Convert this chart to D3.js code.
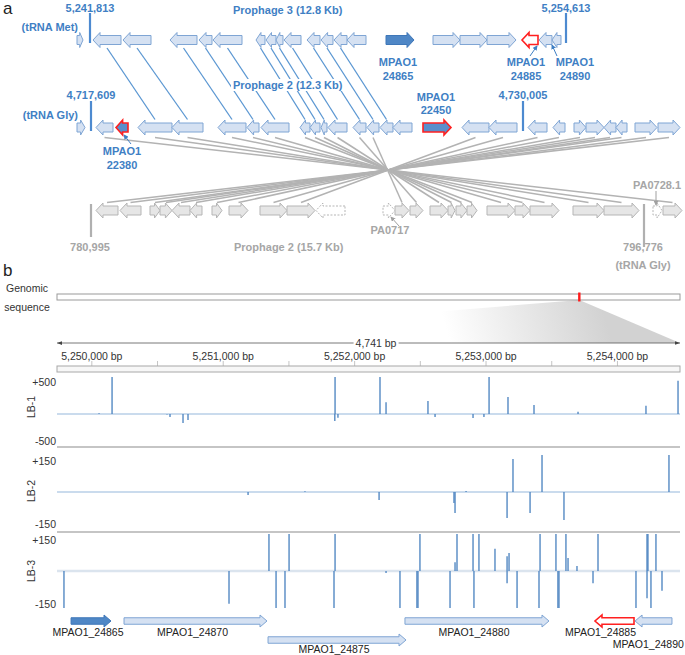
<!DOCTYPE html>
<html><head><meta charset="utf-8">
<script src="https://cdn.jsdelivr.net/npm/d3@7"></script>
<style>body{margin:0;background:#fff}svg{display:block}text{font-family:"Liberation Sans",Arial,sans-serif}</style>
</head><body><svg id="c" width="685" height="655"></svg>
<script>
// ---------- Panel a data (positions in map units) ----------
// [start, end, strand, kind]
const row1Genes = [
 [77,83,1,'n'],[93,121,-1,'n'],[123,151,-1,'n'],[170,197,-1,'n'],[199,212,-1,'n'],[213,242,-1,'n'],
 [256,265,-1,'n'],[266,276,-1,'n'],[276,283,-1,'n'],[284,301,-1,'n'],[307,320,-1,'n'],[321,333,-1,'n'],
 [334,347,-1,'n'],[347,366,-1,'n'],[386,414,1,'dark'],[433,460,1,'n'],[460,487,1,'n'],[487,516,1,'n'],
 [522,538,-1,'redw'],[539,552,-1,'n'],[552,561,-1,'n']
];
const row2Genes = [
 [77,85,1,'n'],[96,113,-1,'n'],[116,128,-1,'red'],[138,172,-1,'n'],[172,203,-1,'n'],[218,246,-1,'n'],
 [247,259,-1,'n'],[261,289,-1,'n'],[300,310,-1,'n'],[310,320,-1,'n'],[321,327,-1,'n'],[328,347,-1,'n'],
 [353,366,-1,'n'],[367,379,-1,'n'],[380,393,-1,'n'],[393,412,-1,'n'],[423,451,1,'red'],[462,489,-1,'n'],
 [489,517,-1,'n'],[528,547,-1,'n'],[553,565,-1,'n'],[574,586,1,'n'],[586,604,1,'n'],[604,616,-1,'n'],
 [616,627,-1,'n'],[635,657,1,'n'],[658,680,1,'n']
];
const row3Genes = [
 [96,118,-1,'g'],[120,141,-1,'g'],[150,160,1,'g'],[160,172,1,'g'],[172,190,-1,'g'],[190,202,-1,'g'],
 [212,222,1,'g'],[229,248,1,'g'],[260,287,1,'g'],[287,315,1,'g'],[316,345,-1,'gd'],[383,395,1,'gd'],
 [395,409,1,'g'],[410,423,1,'g'],[430,448,1,'g'],[448,455,1,'g'],[456,467,1,'g'],[467,477,1,'g'],
 [487,515,1,'g'],[515,530,1,'g'],[530,559,1,'g'],[573,604,1,'g'],[604,639,1,'g'],[653,662,1,'gd'],[663,682,1,'g']
];
// homology links: [row1 index, row2 index]
const blueLinks = [[1,3],[2,4],[3,5],[4,6],[5,7],[6,8],[7,9],[8,10],[9,11],[10,12],[11,13],[12,14]];
// inverted homology links: [row2 index, row3 index]
const grayLinks = [[26,0],[25,1],[24,2],[23,3],[22,4],[21,5],[20,6],[19,7],[18,8],[17,9],
 [1,24],[3,22],[4,21],[5,20],[6,19],[7,18],[8,17],[9,16],[10,15],[11,14],[12,13],[13,12]];
// boundary ticks: [row, position, label]
const boundaries = [[1,90,'5,241,813'],[1,566,'5,254,613'],[2,91,'4,717,609'],[2,523,'4,730,005'],[3,91,'780,995'],[3,644,'796,776']];

// ---------- Panel b data ----------
const genomeLength = 6264404;
const regionCenter = 5252100;
const regionDomain = [5249735, 5254476];
const regionLengthLabel = '4,741 bp';
const axisTicks = [5250000, 5251000, 5252000, 5253000, 5254000];
const axisTickLabels = ['5,250,000 bp','5,251,000 bp','5,252,000 bp','5,253,000 bp','5,254,000 bp'];
const minorTicks = [5250000,5250500,5251000,5251500,5252000,5252500,5253000,5253500,5254000];
const tracks = ['LB-1','LB-2','LB-3'];
const trackLimits = [500, 150, 150];
const trackTickLabels = [['+500','-500'],['+150','-150'],['+150','-150']];
// [position bp, read count]
const lb1 = [[5250055,10],[5250154,520],[5250572,-8],[5250595,-40],[5250694,-120],[5250732,-80],
 [5251851,520],[5251849,-95],[5251873,-50],[5252193,520],[5252239,160],[5252558,175],[5252612,-40],
 [5252901,-55],[5252984,-40],[5253023,520],[5253167,230],[5253365,120],[5253700,30],[5254217,110],[5254461,450]];
const lb2 = [[5251189,-12],[5251622,3],[5252186,-32],[5252756,-45],[5252764,-85],[5252848,4],
 [5253160,-105],[5253205,134],[5253335,-85],[5253426,150],[5253593,-114],[5254392,150]];
const lb3 = [[5249788,-150],[5251044,-133],[5251348,150],[5251402,-150],[5251470,-150],[5251501,150],
 [5251843,-150],[5251851,150],[5252239,-8],[5252345,-150],[5252474,-150],[5252482,-150],[5252497,150],
 [5252726,-150],[5252764,35],[5252779,150],[5252901,150],[5252908,-150],[5252946,150],[5253068,90],
 [5253160,60],[5253160,-50],[5253175,73],[5253236,-150],[5253403,-150],[5253411,150],[5253532,150],
 [5253547,-150],[5253555,-150],[5253608,150],[5253624,53],[5253692,20],[5253814,-50],[5253852,150],
 [5254141,-150],[5254225,-110],[5254225,150],[5254232,150],[5254255,-150],[5254293,150],[5254339,-80]];
const trackData = [lb1, lb2, lb3];
// genes: [name, start, end, strand, kind, lane]
const genesB = [
 ['MPAO1_24865',5249842,5250146,1,'dark',0],
 ['MPAO1_24870',5250245,5251333,1,'n',0],
 ['MPAO1_24875',5251341,5252391,1,'n',1],
 ['MPAO1_24880',5252383,5253479,1,'n',0],
 ['MPAO1_24885',5253829,5254126,-1,'redw',0],
 ['MPAO1_24890',5254134,5254415,-1,'n',0]
];

// ---------- drawing ----------
const svg = d3.select('#c');
const BLUE = '#3f7fc4', GRAYT = '#a6a6a6';
const sa = d3.scaleLinear().domain([0,685]).range([0,685]);
const rowY = {1:40, 2:127.5, 3:210.5};

function arrowPath(x0, x1, cy, strand, bh, hh, hlMax){
  const L = x1 - x0, hl = Math.min(hlMax, L*0.55);
  if (strand > 0) return d3.line()([[x0,cy-bh/2],[x1-hl,cy-bh/2],[x1-hl,cy-hh/2],[x1,cy],[x1-hl,cy+hh/2],[x1-hl,cy+bh/2],[x0,cy+bh/2]]) + 'Z';
  return d3.line()([[x1,cy-bh/2],[x0+hl,cy-bh/2],[x0+hl,cy-hh/2],[x0,cy],[x0+hl,cy+hh/2],[x0+hl,cy+bh/2],[x1,cy+bh/2]]) + 'Z';
}
const styles = {
  n:{fill:'#d5e1f2',stroke:'#7fa5d4',w:1},
  dark:{fill:'#4f87c6',stroke:'#3f77b8',w:1},
  red:{fill:'#5a8fcc',stroke:'#ff2020',w:1.6},
  redw:{fill:'#ffffff',stroke:'#ff2020',w:1.6},
  g:{fill:'#e6e6e6',stroke:'#b5b5b5',w:1},
  gd:{fill:'#ffffff',stroke:'#b5b5b5',w:1,dash:'2,1.5'}
};

svg.append('text').attr('x',3).attr('y',14).attr('font-size',17).attr('fill','#222').text('a');
svg.append('text').attr('x',3).attr('y',276).attr('font-size',17).attr('fill','#222').text('b');

// links
const gl = svg.append('g');
grayLinks.forEach(([i,j])=>{
  const a=row2Genes[i], b=row3Genes[j];
  gl.append('line').attr('x1',sa((a[0]+a[1])/2)).attr('y1',rowY[2]+10).attr('x2',sa((b[0]+b[1])/2)).attr('y2',rowY[3]-8)
    .attr('stroke','#b3b3b3').attr('stroke-width',1.5);
});
blueLinks.forEach(([i,j])=>{
  const a=row1Genes[i], b=row2Genes[j];
  gl.append('line').attr('x1',sa((a[0]+a[1])/2)).attr('y1',rowY[1]+8).attr('x2',sa((b[0]+b[1])/2)).attr('y2',rowY[2]-8)
    .attr('stroke','#5b97d2').attr('stroke-width',1.3);
});

// genes panel a
[[row1Genes,1],[row2Genes,2],[row3Genes,3]].forEach(([arr,r])=>{
  const g = svg.append('g');
  arr.forEach(d=>{
    const s = styles[d[3]];
    g.append('path').attr('d',arrowPath(sa(d[0]),sa(d[1]),rowY[r],d[2],9,15,7))
     .attr('fill',s.fill).attr('stroke',s.stroke).attr('stroke-width',s.w).attr('stroke-dasharray',s.dash||null)
     .attr('stroke-linejoin','miter');
  });
});

function btext(x,y,t,anchor,col,bg){
  const tx = svg.append('text').attr('x',x).attr('y',y).attr('text-anchor',anchor||'middle').attr('font-size',11).attr('font-weight','bold').attr('fill',col||BLUE).text(t);
  if(bg){
    const b = tx.node().getBBox();
    svg.insert('rect',()=>tx.node()).attr('x',b.x-2).attr('y',b.y).attr('width',b.width+4).attr('height',b.height).attr('fill','#fff');
  }
  return tx;
}

// boundaries
boundaries.forEach(([r,x,lab])=>{
  const col = r===3 ? '#b0b0b0' : '#4d8ad0';
  let y1,y2,ty;
  if(r===1){y1=13;y2=43;ty=12;}
  else if(r===2){y1=101;y2=131;ty=99;}
  else {y1=204;y2= x>300?247:237;}
  svg.append('line').attr('x1',sa(x)).attr('x2',sa(x)).attr('y1',y1).attr('y2',y2).attr('stroke',col).attr('stroke-width',2.2);
  if(r<3) btext(sa(x),ty,lab,'middle',BLUE);
  else btext(sa(x)-1,251,lab,'middle',GRAYT);
});

btext(78,31,'(tRNA Met)','end');
btext(78,119,'(tRNA Gly)','end');
btext(233,14,'Prophage 3 (12.8 Kb)','start');
btext(233,89,'Prophage 2 (12.3 Kb)','start',BLUE,true);
btext(398,66,'MPAO1'); btext(398,80,'24865');
btext(526,66,'MPAO1'); btext(526,80,'24885');
btext(575,66,'MPAO1'); btext(575,80,'24890');
btext(436,101,'MPAO1'); btext(436,114,'22450');
btext(122,155,'MPAO1'); btext(122,169,'22380');
btext(234,251,'Prophage 2 (15.7 Kb)','start',GRAYT);
btext(390,234,'PA0717','middle',GRAYT);
btext(657,189,'PA0728.1','middle',GRAYT);
btext(643,269,'(tRNA Gly)','middle',GRAYT);

// pointer arrows
const defs = svg.append('defs');
[['ab','#3f7fc4'],['ag','#a0a0a0']].forEach(([id,c])=>{
  defs.append('marker').attr('id',id).attr('viewBox','0 0 6 6').attr('refX',5).attr('refY',3)
   .attr('markerWidth',5).attr('markerHeight',5).attr('orient','auto')
   .append('path').attr('d','M0,0L6,3L0,6Z').attr('fill',c);
});
[[131,144,124,135,'ab','#3f7fc4'],[530,56,537,46,'ab','#3f7fc4'],[557,56,552,45,'ab','#3f7fc4'],
 [399,226,391,217,'ag','#a0a0a0'],[656,191,656,205,'ag','#a0a0a0']].forEach(p=>{
  svg.append('line').attr('x1',p[0]).attr('y1',p[1]).attr('x2',p[2]).attr('y2',p[3]).attr('stroke',p[5]).attr('stroke-width',1).attr('marker-end',`url(#${p[4]})`);
});

// ---------- panel b ----------
const X0=57, X1=680;
const xg = d3.scaleLinear().domain([0,genomeLength]).range([X0,X1]);
const xb = d3.scaleLinear().domain(regionDomain).range([X0,X1]);

svg.append('text').attr('x',27).attr('y',292).attr('text-anchor','middle').attr('font-size',10.5).attr('fill','#333').text('Genomic');
svg.append('text').attr('x',27).attr('y',311).attr('text-anchor','middle').attr('font-size',10.5).attr('fill','#333').text('sequence');

const grad = defs.append('linearGradient').attr('id','shade').attr('gradientUnits','userSpaceOnUse')
  .attr('x1',600).attr('y1',300).attr('x2',450).attr('y2',343);
grad.append('stop').attr('offset',0).attr('stop-color','#d2d2d2');
grad.append('stop').attr('offset',1).attr('stop-color','#ffffff');
const rc = xg(regionCenter);
svg.append('path').attr('d',`M${rc},300L${X0},343L${X1},343Z`).attr('fill','url(#shade)');
svg.append('rect').attr('x',X0).attr('y',294).attr('width',X1-X0).attr('height',6).attr('fill','#fff').attr('stroke','#9a9a9a').attr('stroke-width',1);
svg.append('rect').attr('x',rc-1.2).attr('y',292.5).attr('width',2.4).attr('height',9).attr('fill','#ff1a1a');

// length arrow
defs.append('marker').attr('id','la').attr('viewBox','0 0 8 6').attr('refX',8).attr('refY',3)
  .attr('markerWidth',7).attr('markerHeight',5).attr('orient','auto-start-reverse')
  .append('path').attr('d','M0,0L8,3L0,6Z').attr('fill','#444');
svg.append('line').attr('x1',X0).attr('x2',X1).attr('y1',343).attr('y2',343).attr('stroke','#555').attr('stroke-width',0.8)
  .attr('marker-start','url(#la)').attr('marker-end','url(#la)');
const lt = svg.append('text').attr('x',376).attr('y',347).attr('text-anchor','middle').attr('font-size',10.5).attr('fill','#333').text(regionLengthLabel);
const bb = lt.node().getBBox();
svg.insert('rect',()=>lt.node()).attr('x',bb.x-2).attr('y',bb.y).attr('width',bb.width+4).attr('height',bb.height).attr('fill','#fff');

axisTicks.forEach((t,i)=>{
  svg.append('text').attr('x',xb(t)).attr('y',360).attr('text-anchor','middle').attr('font-size',10.5).attr('fill','#333').text(axisTickLabels[i]);
});
minorTicks.forEach(t=>{
  svg.append('line').attr('x1',xb(t)).attr('x2',xb(t)).attr('y1',361).attr('y2',366).attr('stroke','#b5b5b5').attr('stroke-width',0.8);
});
svg.append('rect').attr('x',X0).attr('y',366).attr('width',X1-X0).attr('height',6).attr('fill','#f7f7f7').attr('stroke','#a8a8a8').attr('stroke-width',1);

// tracks
const trackRanges = [[451,377],[529,455],[608,534]];
const labelY = [[382,441],[461,524],[540,604]];
const nameY = [407,491,571];
tracks.forEach((name,k)=>{
  const lim = trackLimits[k];
  const y = d3.scaleLinear().domain([-lim,lim]).range(trackRanges[k]).clamp(true);
  svg.append('line').attr('x1',X0).attr('x2',X1).attr('y1',y(0)).attr('y2',y(0))
    .attr('stroke', k===2 ? '#dbe4ee' : '#b9cfe7').attr('stroke-width', k===2 ? 2.5 : 1.5);
  const g = svg.append('g');
  trackData[k].forEach(([p,v])=>{
    g.append('line').attr('x1',xb(p)).attr('x2',xb(p)).attr('y1',y(0)).attr('y2',y(v))
      .attr('stroke','#4f86c2').attr('stroke-width',1.5).attr('opacity',0.9);
  });
  svg.append('text').attr('x',56).attr('y',labelY[k][0]+4).attr('text-anchor','end').attr('font-size',10.5).attr('fill','#333').text(trackTickLabels[k][0]);
  svg.append('text').attr('x',56).attr('y',labelY[k][1]+4).attr('text-anchor','end').attr('font-size',10.5).attr('fill','#333').text(trackTickLabels[k][1]);
  svg.append('text').attr('transform',`translate(35,${nameY[k]}) rotate(-90)`).attr('text-anchor','middle').attr('font-size',10.5).attr('fill','#333').text(name);
});
[447,532].forEach(yy=>{
  svg.append('line').attr('x1',X0).attr('x2',X1).attr('y1',yy).attr('y2',yy).attr('stroke','#8c8c8c').attr('stroke-width',1.2);
});

// genes panel b
const laneY = [621, 640];
const labelDx = {'MPAO1_24885':-11};
const labelDy = {'MPAO1_24890':12};
genesB.forEach(([name,s,e,str,kind,lane])=>{
  const st = styles[kind];
  const cy = laneY[lane];
  svg.append('path').attr('d',arrowPath(xb(s),xb(e),cy,str,6.5,12,7))
    .attr('fill',st.fill).attr('stroke',st.stroke).attr('stroke-width',kind==='redw'?1.6:1);
  const mx = (xb(s)+xb(e))/2 - 3 + (labelDx[name]||0);
  const ty = cy + 15 + (labelDy[name]||0) - (lane===1?2:0);
  const t = svg.append('text').attr('x',mx).attr('y',ty).attr('text-anchor','middle').attr('font-size',10.5).attr('fill','#222').text(name);
  const b = t.node().getBBox();
  if (b.x + b.width > 684) t.attr('x', mx - (b.x + b.width - 684));
});
</script></body></html>
